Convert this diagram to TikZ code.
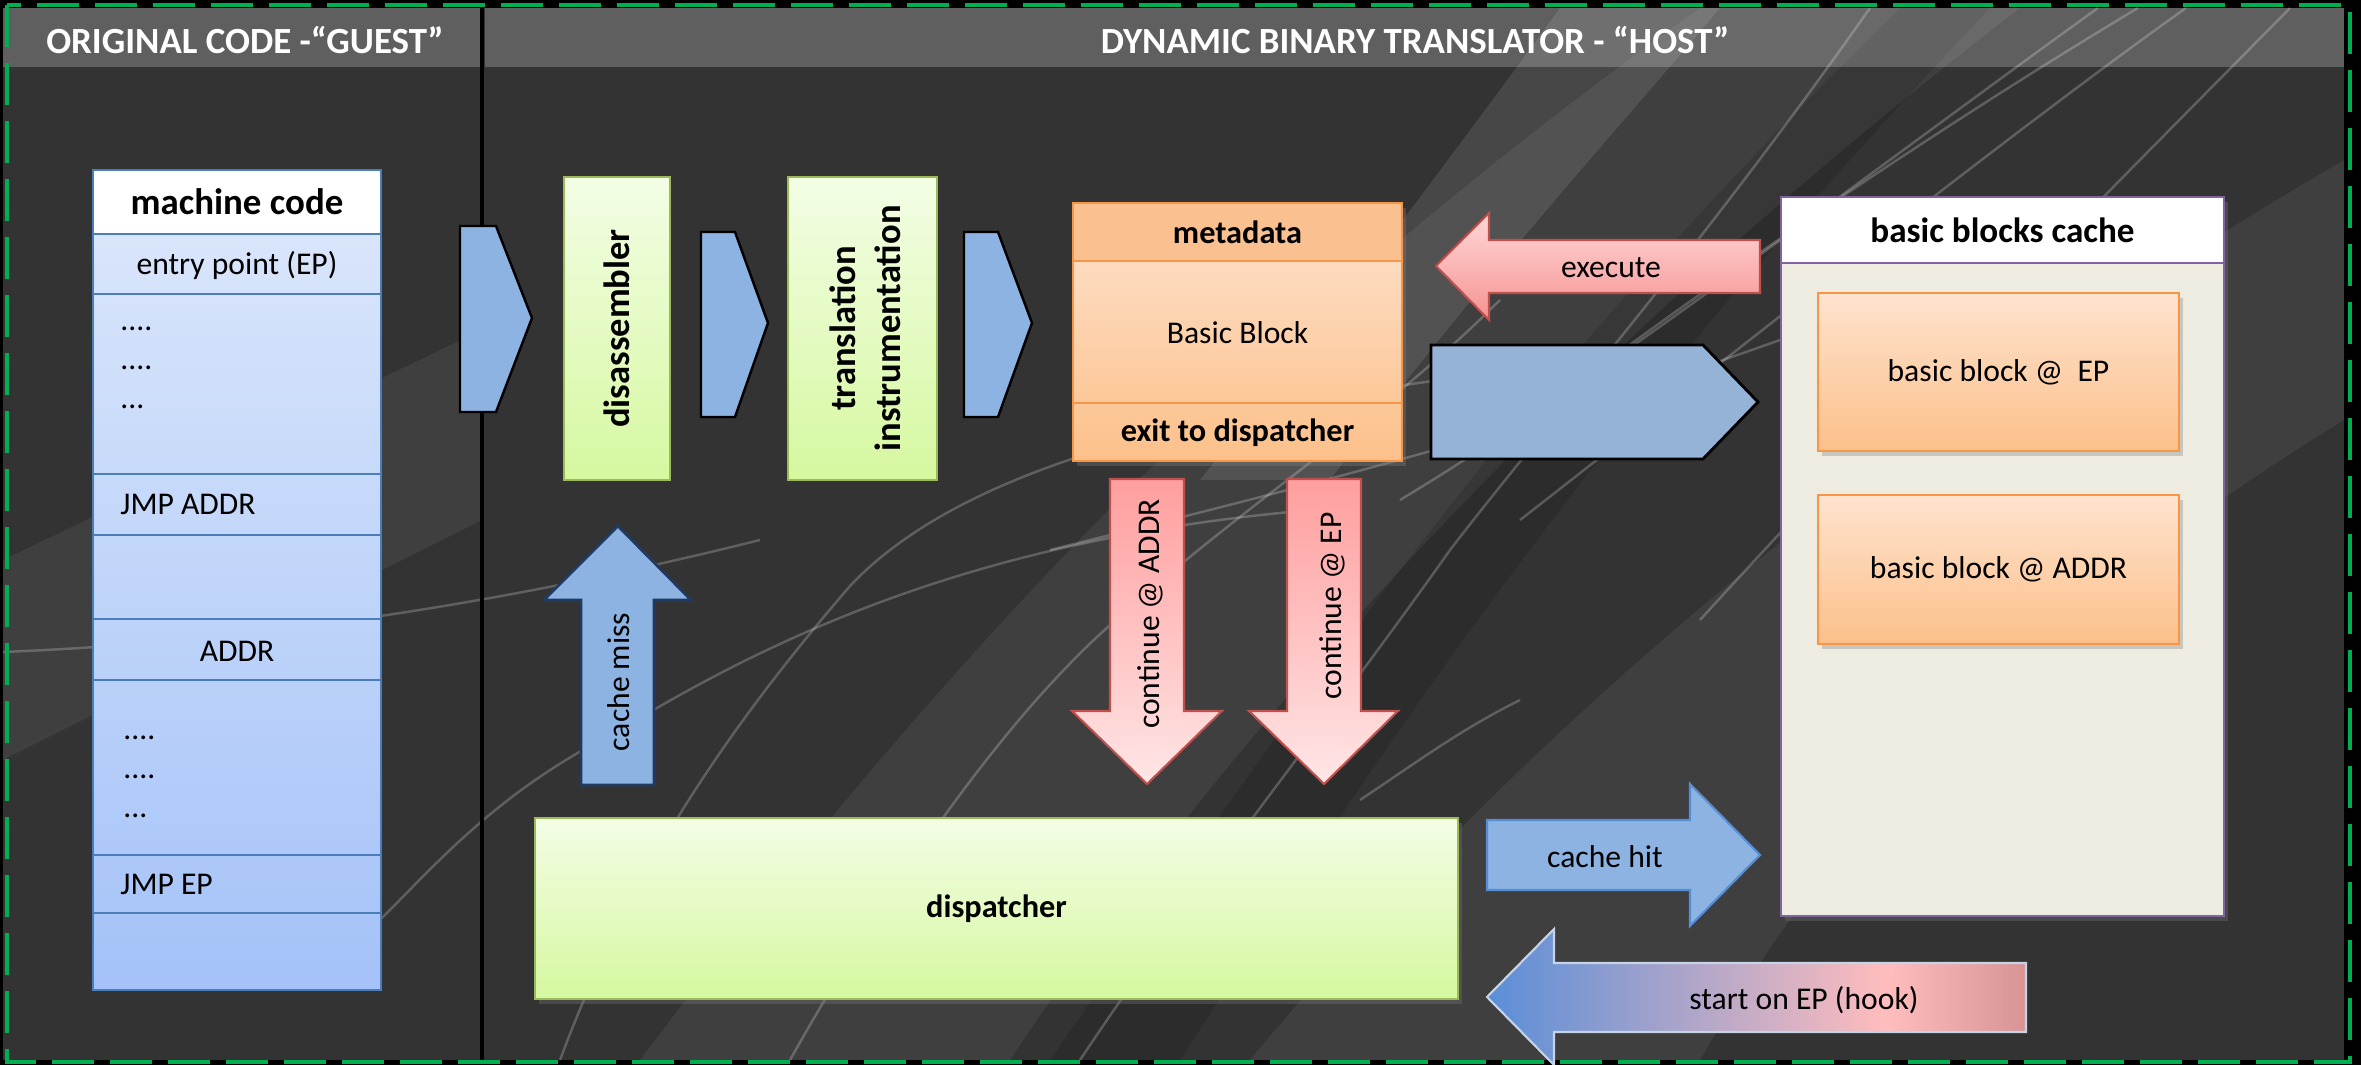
\documentclass[tikz,border=0pt]{standalone}
\usepackage{fontspec}
\setmainfont{Carlito}
\usetikzlibrary{shadows}

\definecolor{bgdark}{HTML}{333333}
\definecolor{dashgreen}{HTML}{00B050}
\definecolor{codetop}{HTML}{DDE8FB}
\definecolor{codebot}{HTML}{A4C2F8}
\definecolor{codeedge}{HTML}{4A7EBB}
\definecolor{chevfill}{HTML}{8DB3E2}
\definecolor{greentop}{HTML}{F3FDE5}
\definecolor{greenbot}{HTML}{D6F8A0}
\definecolor{greenedge}{HTML}{9BBB59}
\definecolor{orangeedge}{HTML}{F79646}
\definecolor{metahead}{HTML}{FAC090}
\definecolor{blocktop}{HTML}{FEE3CE}
\definecolor{blockbot}{HTML}{FCC08A}
\definecolor{rededge}{HTML}{C0504D}
\definecolor{reddark}{HTML}{FF9E9E}
\definecolor{redlight}{HTML}{FFE6E6}
\definecolor{navyedge}{HTML}{203A62}
\definecolor{hitedge}{HTML}{558ED5}
\definecolor{bigchev}{HTML}{95B3D7}
\definecolor{cachefill}{HTML}{EEECE1}
\definecolor{cacheedge}{HTML}{8064A2}
\definecolor{hookblue}{HTML}{5A8ED8}
\definecolor{hookmauve}{HTML}{B8A8C8}
\definecolor{hookpink}{HTML}{FFBDBD}
\definecolor{hookrose}{HTML}{D89494}
\definecolor{hookedge}{HTML}{C6D4E6}

\pgfdeclarehorizontalshading{hookshade}{100bp}{color(0bp)=(hookblue); color(25bp)=(hookblue); color(46bp)=(hookmauve); color(62bp)=(hookpink); color(75bp)=(hookrose); color(100bp)=(hookrose)}

\begin{document}
\begin{tikzpicture}[x=0.1mm, y=-0.1mm]
    % Define styles
    \tikzset{
        paneltitle/.style={text=white, font=\fontsize{10.5}{12}\selectfont\bfseries},
        plaintext/.style={text=black, font=\fontsize{9}{11}\selectfont},
        boldtext/.style={text=black, font=\fontsize{9.2}{11}\selectfont\bfseries},
        sidetext/.style={text=black, font=\fontsize{10.4}{12.8}\selectfont\bfseries, align=center, rotate=90},
        greenbox/.style={draw=greenedge, line width=0.7pt, top color=greentop, bottom color=greenbot, inner sep=0pt},
        chevron/.style={draw=black, line width=0.7pt, fill=chevfill},
        redarrow/.style={draw=rededge, line width=0.6pt, top color=reddark, bottom color=redlight},
        blockbox/.style={draw=orangeedge, line width=0.8pt, top color=blocktop, bottom color=blockbot, inner sep=0pt,
            drop shadow={opacity=0.35, shadow xshift=0.4mm, shadow yshift=-0.5mm}},
        streak/.style={white, opacity=0.22, line width=0.7pt},
        band/.style={white, opacity=0.06}
    }
    \useasboundingbox (0,0) rectangle (2361,1065);

    % Background and decoration
    \fill[black] (0,0) rectangle (2361,1065);
    \fill[bgdark] (3,8) rectangle (2344,1060);
    \fill[band] (3,560) -- (482,330) -- (482,520) -- (3,760) -- cycle;
    \fill[band] (640,1060) .. controls (950,650) and (1250,330) .. (1700,8) -- (2020,8) .. controls (1600,330) and (1250,700) .. (1010,1060) -- cycle;
    \fill[band] (1250,1060) .. controls (1550,700) and (1900,420) .. (2344,160) -- (2344,420) .. controls (2050,600) and (1850,800) .. (1700,1060) -- cycle;
    \fill[white, opacity=0.10] (1560,8) .. controls (1420,200) and (1320,330) .. (1200,480) -- (1330,480) .. controls (1480,280) and (1600,150) .. (1720,8) -- cycle;
    \fill[black, opacity=0.12] (1050,1060) .. controls (1300,700) and (1500,400) .. (1900,8) -- (1990,8) .. controls (1600,420) and (1400,720) .. (1180,1060) -- cycle;
    \draw[streak] (3,652) .. controls (300,640) and (560,590) .. (760,540);
    \draw[streak] (380,920) .. controls (440,860) and (500,790) .. (620,730) .. controls (800,620) and (1000,540) .. (1290,512);
    \draw[streak] (560,1060) .. controls (620,900) and (700,760) .. (850,586) .. controls (950,480) and (1150,420) .. (1440,380);
    \draw[streak] (790,1060) .. controls (880,900) and (1000,720) .. (1117,619) .. controls (1250,500) and (1380,420) .. (1500,300);
    \draw[streak] (1080,1060) .. controls (1200,880) and (1330,720) .. (1450,550) .. controls (1550,420) and (1700,250) .. (1870,8);
    \draw[streak] (1360,800) .. controls (1420,760) and (1460,730) .. (1520,700);
    \draw[streak] (1050,550) .. controls (1250,500) and (1500,440) .. (1780,340);
    \draw[streak] (1400,500) .. controls (1600,380) and (1900,150) .. (2098,8);
    \draw[streak] (1480,460) .. controls (1650,320) and (1950,120) .. (2138,8);
    \draw[streak] (1520,520) .. controls (1700,380) and (2000,140) .. (2186,8);
    \draw[streak] (1700,620) .. controls (1900,400) and (2150,150) .. (2290,8);

    % Title bands
    \fill[white, opacity=0.22] (3,8) rectangle (480,67);
    \fill[white, opacity=0.22] (485,8) rectangle (2344,67);
    \draw[black, line width=0.9pt] (482,8) -- (482,1060);
    \node[paneltitle] (guesttitle) at (245,40) {ORIGINAL CODE -“GUEST”};
    \node[paneltitle] (hosttitle) at (1415,40) {DYNAMIC BINARY TRANSLATOR - “HOST”};

    % Machine code column (guest)
    \node[draw=codeedge, line width=0.8pt, top color=codetop, bottom color=codebot, inner sep=0pt,
        minimum width=28.8mm, minimum height=82mm] (code) at (237,580) {};
    \node[draw=codeedge, line width=0.8pt, fill=white, inner sep=0pt, minimum width=28.8mm, minimum height=6.4mm,
        boldtext, font=\fontsize{10.5}{12}\selectfont\bfseries] (codehead) at (237,202) {machine code};
    \foreach \y in {294,474,535,619,680,855,913}
        \draw[codeedge, line width=0.8pt] (code.west |- 0,\y) -- (code.east |- 0,\y);
    \node[plaintext] (entry) at (237,265) {entry point (EP)};
    \node[plaintext, anchor=west] (dotsa) at (108,329) {....};
    \node[plaintext, anchor=west] (dotsb) at (108,368) {....};
    \node[plaintext, anchor=west] (dotsc) at (108,407) {...};
    \node[plaintext, anchor=west] (jmpaddr) at (108,504) {JMP ADDR};
    \node[plaintext] (addr) at (237,651) {ADDR};
    \node[plaintext, anchor=west] (dotsd) at (111,738) {....};
    \node[plaintext, anchor=west] (dotse) at (111,777) {....};
    \node[plaintext, anchor=west] (dotsf) at (111,816) {...};
    \node[plaintext, anchor=west] (jmpep) at (108,884) {JMP EP};

    % Pipeline: chevrons and stages
    \draw[chevron] (460,226) -- (496,226) -- (532,318) -- (496,412) -- (460,412) -- cycle;
    \node[greenbox, minimum width=10.6mm, minimum height=30.3mm] (disasm) at (617,328.5) {};
    \node[sidetext] at (disasm.center) {disassembler};
    \draw[chevron] (701,232) -- (735,232) -- (768,323) -- (735,417) -- (701,417) -- cycle;
    \node[greenbox, minimum width=14.9mm, minimum height=30.3mm] (transl) at (862.5,328.5) {};
    \node[sidetext] at ([xshift=0.3mm]transl.center) {translation\\instrumentation};
    \draw[chevron] (964,232) -- (998,232) -- (1032,323) -- (998,417) -- (964,417) -- cycle;

    % Translated basic block
    \node[blockbox, minimum width=32.9mm, minimum height=25.8mm] (block) at (1237.5,332) {};
    \node[draw=orangeedge, line width=0.8pt, fill=metahead, inner sep=0pt, minimum width=32.9mm, minimum height=5.8mm,
        boldtext] (meta) at (1237.5,232) {metadata};
    \draw[orangeedge, line width=0.8pt] (block.west |- 0,403) -- (block.east |- 0,403);
    \node[plaintext] (bbtext) at (1237.5,333) {Basic Block};
    \node[boldtext] (exittext) at (1237.5,433) {exit to dispatcher};

    % Execute and store arrows
    \draw[draw=rededge, line width=0.6pt, top color=redlight!80!reddark, bottom color=reddark!85!rededge]
        (1436,266) -- (1489,213) -- (1489,240) -- (1760,240) -- (1760,293) -- (1489,293) -- (1489,320) -- cycle;
    \node[plaintext] (execute) at (1611,268) {execute};
    \draw[draw=black, line width=0.8pt, fill=bigchev] (1431,345) -- (1703,345) -- (1758,402) -- (1703,459) -- (1431,459) -- cycle;

    % Continue arrows
    \draw[redarrow] (1110,479) -- (1184,479) -- (1184,711) -- (1222,711) -- (1147,784) -- (1072,711) -- (1110,711) -- cycle;
    \node[plaintext, rotate=90] (contaddr) at (1150,614) {continue @ ADDR};
    \draw[redarrow] (1287,479) -- (1361,479) -- (1361,711) -- (1398,711) -- (1324,784) -- (1249,711) -- (1287,711) -- cycle;
    \node[plaintext, rotate=90] (contep) at (1332,606) {continue @ EP};

    % Cache miss
    \draw[draw=navyedge, line width=0.8pt, fill=chevfill] (581,785) -- (654,785) -- (654,600) -- (691,600) -- (618,526) -- (544,600) -- (581,600) -- cycle;
    \node[plaintext, rotate=90] (miss) at (619,682) {cache miss};

    % Dispatcher
    \node[greenbox, minimum width=92.3mm, minimum height=18.1mm, boldtext,
        drop shadow={opacity=0.3, shadow xshift=0.4mm, shadow yshift=-0.5mm}] (dispatch) at (996.5,908.5) {dispatcher};

    % Cache hit and hook
    \draw[draw=hitedge, line width=0.6pt, fill=chevfill] (1487,820) -- (1690,820) -- (1690,784) -- (1760,855) -- (1690,926) -- (1690,890) -- (1487,890) -- cycle;
    \node[plaintext] (hit) at (1605,857) {cache hit};
    \draw[draw=hookedge, line width=0.6pt, shading=hookshade] (1487,997) -- (1554,929) -- (1554,963) -- (2026,963) -- (2026,1032) -- (1554,1032) -- (1554,1065) -- cycle;
    \node[plaintext] (hook) at (1804,1000) {start on EP (hook)};

    % Basic blocks cache
    \node[draw=cacheedge, line width=0.8pt, fill=cachefill, inner sep=0pt, minimum width=44.3mm, minimum height=71.9mm,
        drop shadow={opacity=0.3, shadow xshift=0.4mm, shadow yshift=-0.5mm}] (cache) at (2002.5,556.5) {};
    \node[draw=cacheedge, line width=0.8pt, fill=white, inner sep=0pt, minimum width=44.3mm, minimum height=6.6mm,
        boldtext, font=\fontsize{10}{12}\selectfont\bfseries] (cachehead) at (2002.5,230) {basic blocks cache};
    \node[blockbox, minimum width=36.1mm, minimum height=15.8mm, plaintext] (bbep) at (1998.5,372) {basic block @\ \ EP};
    \node[blockbox, minimum width=36.1mm, minimum height=14.9mm, plaintext] (bbaddr) at (1998.5,569.5) {basic block @ ADDR};

    % Frame
    \draw[dashgreen, line width=1.4pt, dash pattern=on 4.2mm off 1.6mm] (7,5) rectangle (2350,1062);
\end{tikzpicture}
\end{document}
